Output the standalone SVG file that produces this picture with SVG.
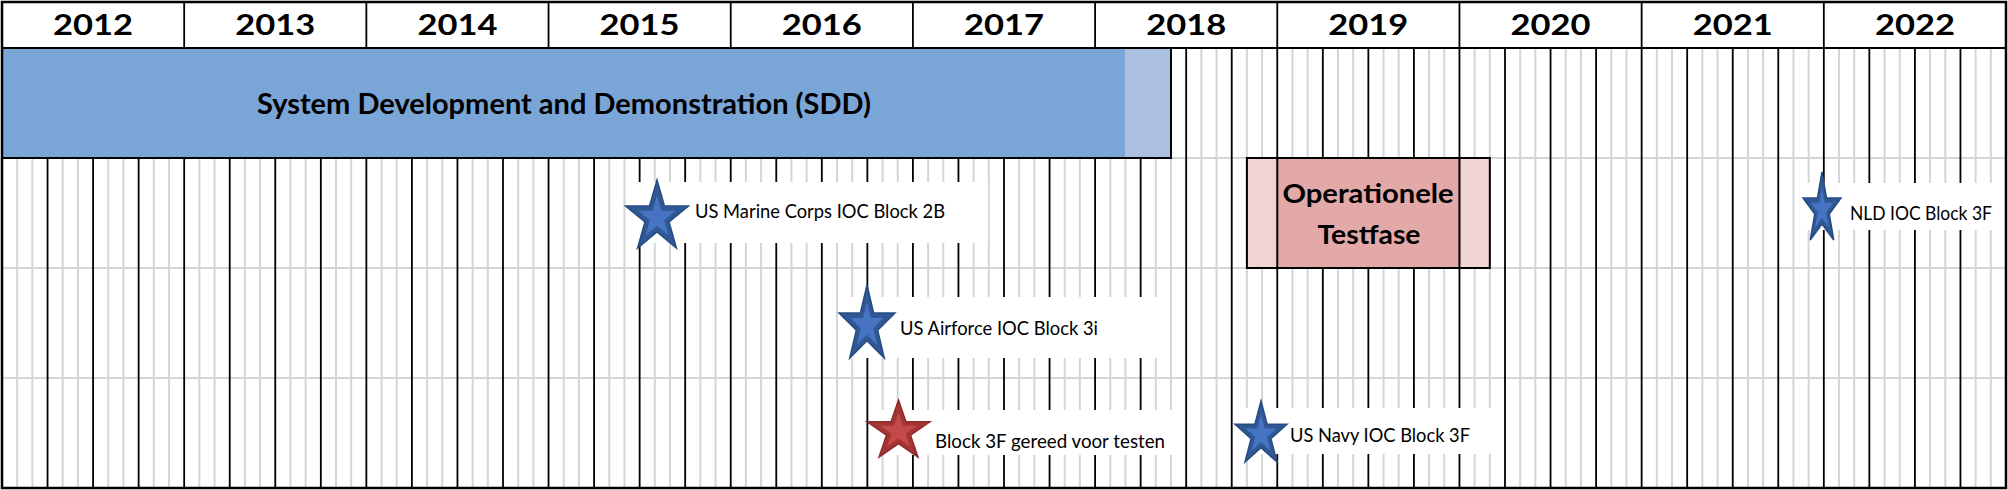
<svg xmlns="http://www.w3.org/2000/svg" xmlns:xlink="http://www.w3.org/1999/xlink" width="2008" height="490" viewBox="0 0 2008 490">
<style>
.yr{font-family:Lato,"Liberation Sans",sans-serif;font-weight:700;font-size:28px;text-anchor:middle;fill:#000}
.big{font-family:Lato,"Liberation Sans",sans-serif;font-weight:700;font-size:28px;text-anchor:middle;fill:#000}
.op{font-family:Lato,"Liberation Sans",sans-serif;font-weight:700;font-size:26px;text-anchor:middle;fill:#000}
.lbl{font-family:Lato,"Liberation Sans",sans-serif;font-size:18.5px;fill:#000}
.gg{stroke:#d3d6d8;stroke-width:2;fill:none}
.gb{stroke:#000;stroke-width:1.8;fill:none}
.wbox{fill:#fff}
.sbo{fill:#2f5895;stroke:#284c82;stroke-width:1.5}
.sbi{fill:#4674c2}
.sro{fill:#a53434;stroke:#8e2b2b;stroke-width:1.5}
.sri{fill:#c44a4a}
</style>
<defs>
<path id="star" vector-effect="non-scaling-stroke" d="M0,-1 L0.2245,-0.309 L0.951,-0.309 L0.3633,0.118 L0.588,0.809 L0,0.382 L-0.588,0.809 L-0.3633,0.118 L-0.951,-0.309 L-0.2245,-0.309 Z"/>
</defs>
<rect x="0" y="0" width="2008" height="490" fill="#fff"/>
<g id="grid">
<path class="gg" d="M17.18,48V488M32.36,48V488M62.73,48V488M77.91,48V488M108.27,48V488M123.45,48V488M153.82,48V488M169,48V488M199.36,48V488M214.55,48V488M244.91,48V488M260.09,48V488M290.45,48V488M305.64,48V488M336,48V488M351.18,48V488M381.55,48V488M396.73,48V488M427.09,48V488M442.27,48V488M472.64,48V488M487.82,48V488M518.18,48V488M533.36,48V488M563.73,48V488M578.91,48V488M609.27,48V488M624.45,48V488M654.82,48V488M670,48V488M700.36,48V488M715.55,48V488M745.91,48V488M761.09,48V488M791.45,48V488M806.64,48V488M837,48V488M852.18,48V488M882.55,48V488M897.73,48V488M928.09,48V488M943.27,48V488M973.64,48V488M988.82,48V488M1019.18,48V488M1034.36,48V488M1064.73,48V488M1079.91,48V488M1110.27,48V488M1125.45,48V488M1155.82,48V488M1171,48V488M1201.36,48V488M1216.55,48V488M1246.91,48V488M1262.09,48V488M1292.45,48V488M1307.64,48V488M1338,48V488M1353.18,48V488M1383.55,48V488M1398.73,48V488M1429.09,48V488M1444.27,48V488M1474.64,48V488M1489.82,48V488M1520.18,48V488M1535.36,48V488M1565.73,48V488M1580.91,48V488M1611.27,48V488M1626.45,48V488M1656.82,48V488M1672,48V488M1702.36,48V488M1717.55,48V488M1747.91,48V488M1763.09,48V488M1793.45,48V488M1808.64,48V488M1839,48V488M1854.18,48V488M1884.55,48V488M1899.73,48V488M1930.09,48V488M1945.27,48V488M1975.64,48V488M1990.82,48V488"/>
<path class="gg" d="M2,158H2006M2,268H2006M2,378H2006"/>
<path class="gb" d="M47.55,48V488M93.09,48V488M138.64,48V488M229.73,48V488M275.27,48V488M320.82,48V488M411.91,48V488M457.45,48V488M503,48V488M594.09,48V488M639.64,48V488M685.18,48V488M776.27,48V488M821.82,48V488M867.36,48V488M958.45,48V488M1004,48V488M1049.55,48V488M1140.64,48V488M1186.18,48V488M1231.73,48V488M1322.82,48V488M1368.36,48V488M1413.91,48V488M1505,48V488M1550.55,48V488M1596.09,48V488M1687.18,48V488M1732.73,48V488M1778.27,48V488M1869.36,48V488M1914.91,48V488M1960.45,48V488"/>
<path class="gb" d="M184.18,2V488M366.36,2V488M548.55,2V488M730.73,2V488M912.91,2V488M1095.09,2V488M1277.27,2V488M1459.45,2V488M1641.64,2V488M1823.82,2V488M2,48H2006"/>
</g>
<g id="years">
<text class="yr" x="93.09" y="35" textLength="80" lengthAdjust="spacingAndGlyphs">2012</text>
<text class="yr" x="275.27" y="35" textLength="80" lengthAdjust="spacingAndGlyphs">2013</text>
<text class="yr" x="457.45" y="35" textLength="80" lengthAdjust="spacingAndGlyphs">2014</text>
<text class="yr" x="639.64" y="35" textLength="80" lengthAdjust="spacingAndGlyphs">2015</text>
<text class="yr" x="821.82" y="35" textLength="80" lengthAdjust="spacingAndGlyphs">2016</text>
<text class="yr" x="1004" y="35" textLength="80" lengthAdjust="spacingAndGlyphs">2017</text>
<text class="yr" x="1186.18" y="35" textLength="80" lengthAdjust="spacingAndGlyphs">2018</text>
<text class="yr" x="1368.36" y="35" textLength="80" lengthAdjust="spacingAndGlyphs">2019</text>
<text class="yr" x="1550.55" y="35" textLength="80" lengthAdjust="spacingAndGlyphs">2020</text>
<text class="yr" x="1732.73" y="35" textLength="80" lengthAdjust="spacingAndGlyphs">2021</text>
<text class="yr" x="1914.91" y="35" textLength="80" lengthAdjust="spacingAndGlyphs">2022</text>
</g>
<g id="sdd">
<rect x="2" y="48" width="1123.45" height="110" fill="#7aa5d7"/>
<rect x="1125.45" y="48" width="45.55" height="110" fill="#aac0de"/>
<rect x="2" y="48" width="1169" height="110" fill="none" stroke="#000" stroke-width="2"/>
<text class="big" x="564" y="114" textLength="614" lengthAdjust="spacingAndGlyphs">System Development and Demonstration (SDD)</text>
</g>
<g id="optest">
<rect x="1246.91" y="158" width="242.91" height="110" fill="#f2d3d3" stroke="#000" stroke-width="2"/>
<rect x="1277.27" y="158" width="182.18" height="110" fill="#e3a8a8" stroke="#000" stroke-width="2"/>
<text class="op" x="1368" y="203" textLength="171" lengthAdjust="spacingAndGlyphs">Operationele</text>
<text class="op" x="1369" y="244" textLength="103" lengthAdjust="spacingAndGlyphs">Testfase</text>
</g>
<g id="ms-usmc">
<rect class="wbox" x="630" y="182" width="358" height="61"/>
<use xlink:href="#star" class="sbo" transform="translate(657,217.6) scale(33.1,37.6)"/>
<use xlink:href="#star" class="sbi" transform="translate(657,217.6) scale(19.5,22.2)"/>
<text class="lbl" x="695" y="218" textLength="250" lengthAdjust="spacingAndGlyphs">US Marine Corps IOC Block 2B</text>
</g>
<g id="ms-usaf">
<rect class="wbox" x="840" y="297" width="330" height="61"/>
<use xlink:href="#star" class="sbo" transform="translate(867,325.4) scale(29.4,40.4)"/>
<use xlink:href="#star" class="sbi" transform="translate(867,325.4) scale(17.3,23.8)"/>
<text class="lbl" x="900" y="335" textLength="198" lengthAdjust="spacingAndGlyphs">US Airforce IOC Block 3i</text>
</g>
<g id="ms-block3f">
<rect class="wbox" x="872" y="410" width="313" height="45"/>
<use xlink:href="#star" class="sro" transform="translate(898.5,431.5) scale(33.1,31.5)"/>
<use xlink:href="#star" class="sri" transform="translate(898.5,431.5) scale(19.5,18.6)"/>
<text class="lbl" x="935" y="448" textLength="230" lengthAdjust="spacingAndGlyphs">Block 3F gereed voor testen</text>
</g>
<g id="ms-usn">
<rect class="wbox" x="1236" y="408" width="264" height="46"/>
<use xlink:href="#star" class="sbo" transform="translate(1261,434.7) scale(27.3,33.7)"/>
<use xlink:href="#star" class="sbi" transform="translate(1261,434.7) scale(16.1,19.9)"/>
<text class="lbl" x="1290" y="442" textLength="180" lengthAdjust="spacingAndGlyphs">US Navy IOC Block 3F</text>
</g>
<g id="ms-nld">
<rect class="wbox" x="1800" y="183" width="206" height="47"/>
<use xlink:href="#star" class="sbo" transform="translate(1822,209.6) scale(20,37.6)"/>
<use xlink:href="#star" class="sbi" transform="translate(1822,209.6) scale(11.8,22.2)"/>
<text class="lbl" x="1850" y="220" textLength="142" lengthAdjust="spacingAndGlyphs">NLD IOC Block 3F</text>
</g>
<g id="connectors"/>
<rect x="2" y="2" width="2004" height="486" fill="none" stroke="#000" stroke-width="2.5"/>
</svg>
